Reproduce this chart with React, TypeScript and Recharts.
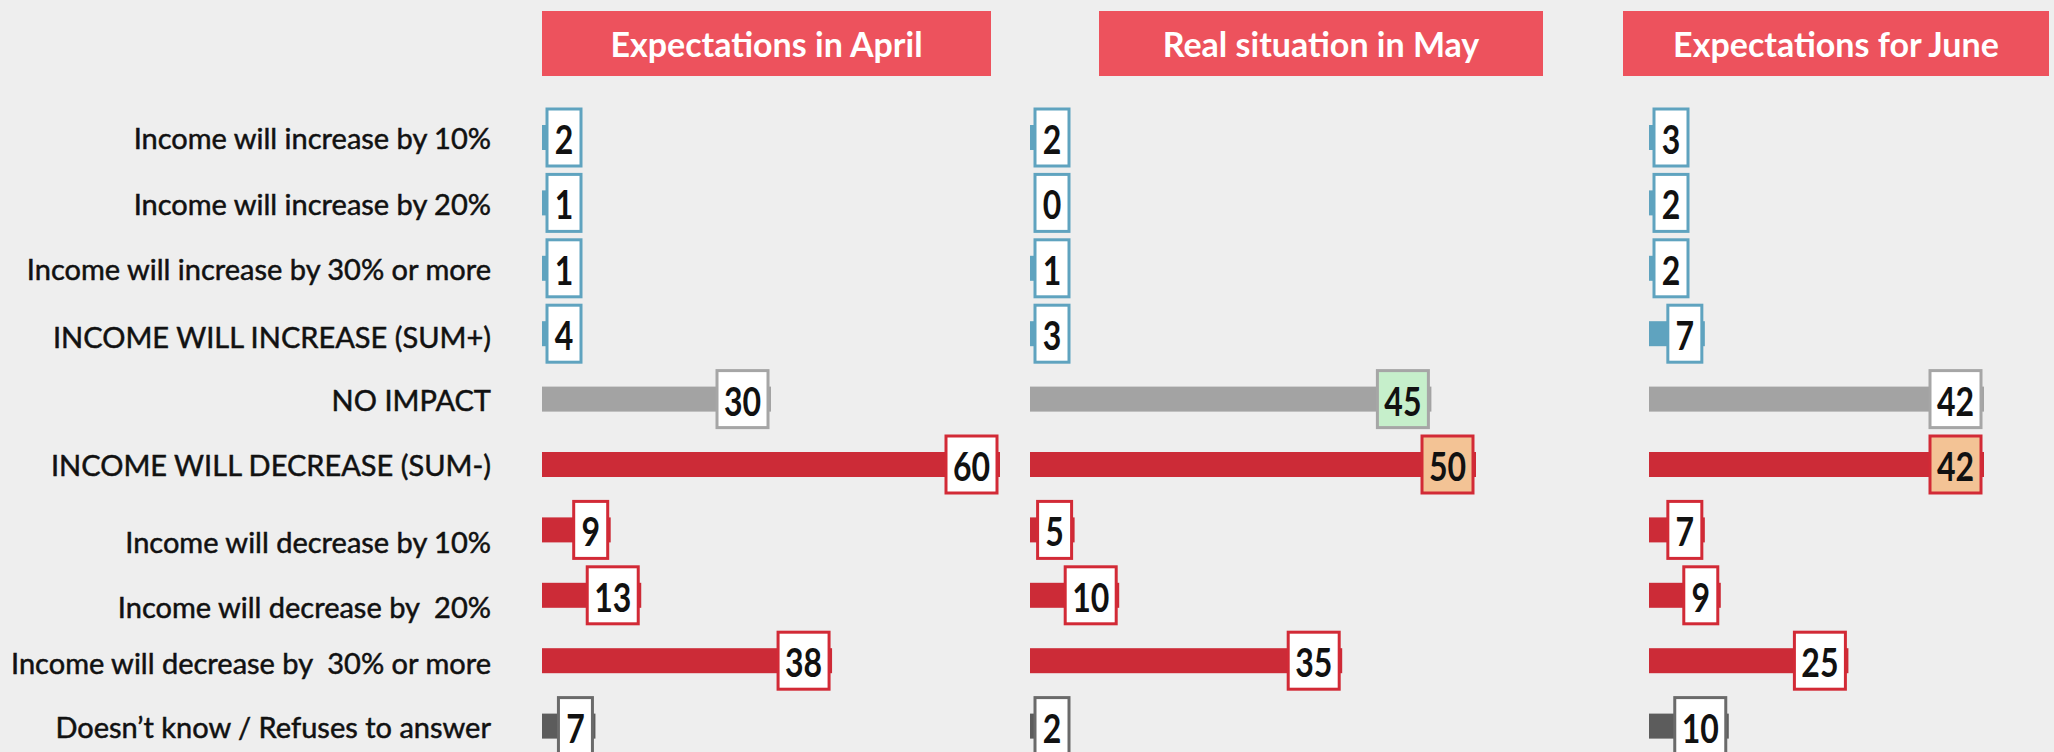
import React from "react";
import { BarChart, Bar, XAxis, YAxis } from "recharts";

const categories = [
  "Income will increase by 10%",
  "Income will increase by 20%",
  "Income will increase by 30% or more",
  "INCOME WILL INCREASE (SUM+)",
  "NO IMPACT",
  "INCOME WILL DECREASE (SUM-)",
  "Income will decrease by 10%",
  "Income will decrease by  20%",
  "Income will decrease by  30% or more",
  "Doesn\u2019t know / Refuses to answer",
];
const aprilValues = [2, 1, 1, 4, 30, 60, 9, 13, 38, 7];
const mayValues = [2, 0, 1, 3, 45, 50, 5, 10, 35, 2];
const juneValues = [3, 2, 2, 7, 42, 42, 7, 9, 25, 10];
const panelTitles = ["Expectations in April", "Real situation in May", "Expectations for June"];

// styles
const BLUE = "#5fa3bf";
const GRAY = "#a3a3a3";
const RED = "#cc2b37";
const DARK = "#5c5c5c";
const rowBarColors = [BLUE, BLUE, BLUE, BLUE, GRAY, RED, RED, RED, RED, DARK];
const rowBorderColors = ["#5fa3bf", "#5fa3bf", "#5fa3bf", "#5fa3bf", "#a6a6a6", "#d22a36", "#d22a36", "#d22a36", "#d22a36", "#6a6a6a"];
const labelShift = [0, 0, 0, 3, 0, 0, 11, 11, 2, 0];
const GREEN_FILL = "#c6efcb";
const PEACH_FILL = "#f3c395";

const FONT = "Lato, 'Open Sans', sans-serif";
const BG = "#eeeeee";

const makeData = (values: number[]) => categories.map((label, i) => ({ label, value: values[i], row: i }));

const CategoryTick = (props: any) => {
  const { x, y, payload, index } = props;
  const i = typeof index === "number" ? index : payload?.index ?? 0;
  return (
    <text
      x={x}
      y={y + (labelShift[i] || 0)}
      textAnchor="end"
      dominantBaseline="central"
      fontFamily={FONT}
      fontSize={29}
      fill="#111"
      stroke="#111"
      strokeWidth={0.5}
      style={{ whiteSpace: "pre" }}
    >
      {payload.value}
    </text>
  );
};

const makeShape = (highlights: Record<number, string>) => (props: any) => {
  const { x, y, height, payload } = props;
  const row: number = payload.row;
  const value: number = payload.value;
  const width = value > 0 ? props.width : 0;
  const txt = String(value);
  const w = txt.length > 1 ? 51 : 34;
  const barEnd = x + width;
  const left = Math.max(x + 5, barEnd - 3 - w);
  const cy = y + height / 2;
  const h = 57;
  const cx = left + w / 2;
  const fill = highlights[row] || "#ffffff";
  return (
    <g>
      {width > 0 && <rect x={x} y={y} width={width} height={height} fill={rowBarColors[row]} />}
      <rect x={left} y={cy - h / 2} width={w} height={h} fill={fill} stroke={rowBorderColors[row]} strokeWidth={3} />
      <text
        x={0}
        y={0}
        transform={`translate(${cx},${cy + 1}) scale(0.8,1)`}
        textAnchor="middle"
        dominantBaseline="central"
        fontFamily={FONT}
        fontWeight={700}
        fontSize={40}
        fill="#111"
      >
        {txt}
      </text>
    </g>
  );
};

const CHART_H = 770;
const MARGIN_TOP = 105;
const MARGIN_BOTTOM = 11;

type PanelProps = {
  values: number[];
  max: number;
  left: number;
  plotLeft: number;
  plotWidth: number;
  showAxis: boolean;
  highlights: Record<number, string>;
};

const Panel = ({ values, max, left, plotLeft, plotWidth, showAxis, highlights }: PanelProps) => {
  const data = makeData(values);
  const width = plotLeft + plotWidth + 10;
  return (
    <div style={{ position: "absolute", left, top: 0 }}>
      <BarChart
        width={width}
        height={CHART_H}
        data={data}
        layout="vertical"
        margin={{ top: MARGIN_TOP, right: 10, bottom: MARGIN_BOTTOM, left: 0 }}
        barCategoryGap={0}
        style={{ overflow: "visible" }}
      >
        <XAxis type="number" domain={[0, max]} hide allowDataOverflow />
        <YAxis
          type="category"
          dataKey="label"
          width={plotLeft}
          hide={!showAxis}
          axisLine={false}
          tickLine={false}
          tickSize={0}
          tickMargin={51}
          interval={0}
          tick={<CategoryTick />}
        />
        <Bar dataKey="value" barSize={25} minPointSize={1} isAnimationActive={false} shape={makeShape(highlights)} />
      </BarChart>
    </div>
  );
};

const headers = [
  { left: 542, width: 449 },
  { left: 1099, width: 444 },
  { left: 1623, width: 426 },
];

export default function App() {
  return (
    <div
      style={{
        position: "absolute",
        left: 0,
        top: 0,
        width: 2054,
        height: 752,
        overflow: "hidden",
        background: BG,
        fontFamily: FONT,
      }}
    >
      {panelTitles.map((t, i) => (
        <div
          key={t}
          style={{
            position: "absolute",
            left: headers[i].left,
            top: 11,
            width: headers[i].width,
            height: 65,
            background: "#ed525d",
            color: "#fff",
            fontWeight: 700,
            fontSize: 34,
            display: "flex",
            alignItems: "center",
            justifyContent: "center",
            fontFamily: FONT,
          }}
        >
          {t}
        </div>
      ))}
      <Panel values={aprilValues} max={60} left={0} plotLeft={542} plotWidth={458} showAxis highlights={{}} />
      <Panel values={mayValues} max={50} left={1030} plotLeft={0} plotWidth={446} showAxis={false} highlights={{ 4: GREEN_FILL, 5: PEACH_FILL }} />
      <Panel values={juneValues} max={42} left={1649} plotLeft={0} plotWidth={335} showAxis={false} highlights={{ 5: PEACH_FILL }} />
    </div>
  );
}
